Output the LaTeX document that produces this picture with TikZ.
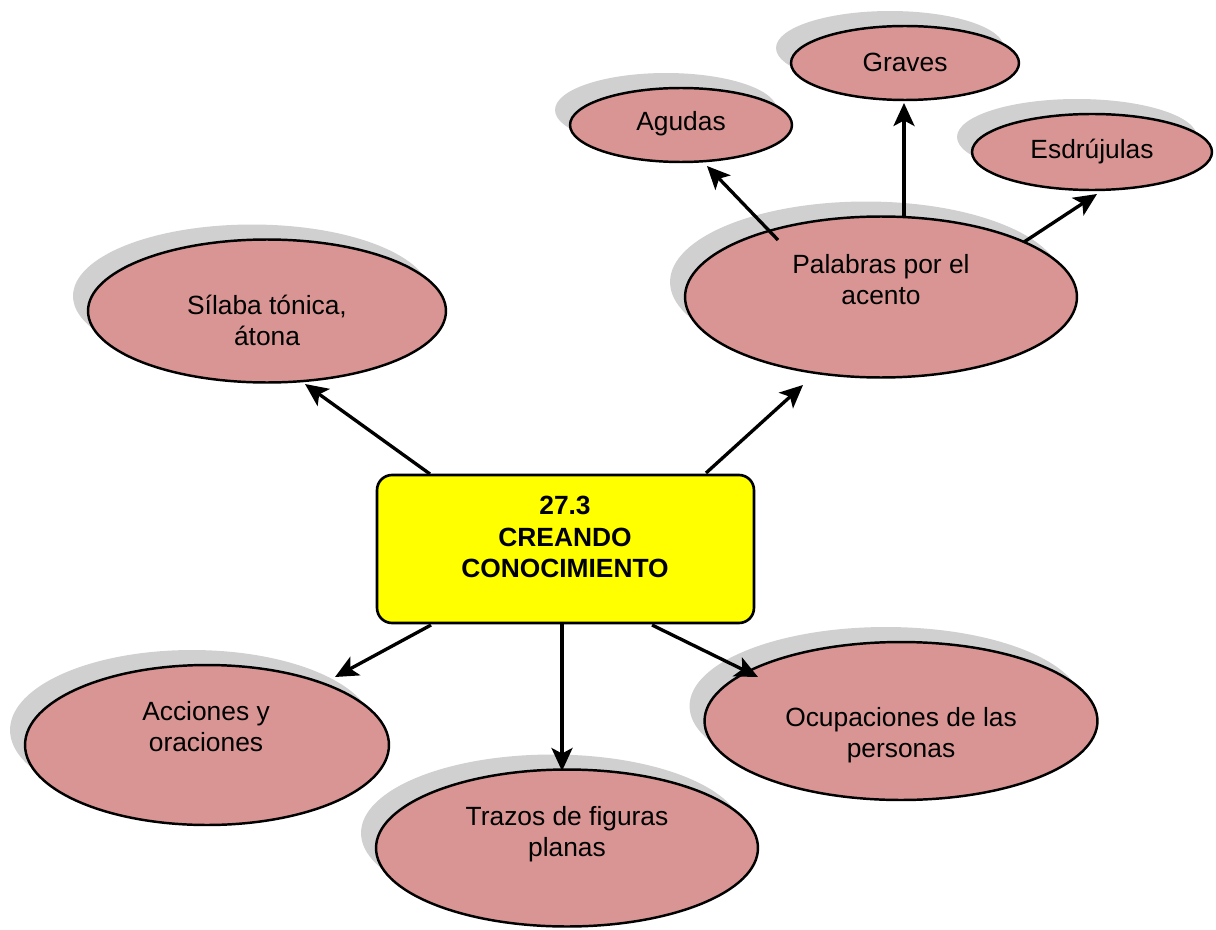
\documentclass[tikz,border=0pt]{standalone}
\usepackage{fontspec}
\setmainfont{Liberation Sans}
\usetikzlibrary{shapes.geometric,shadows,arrows.meta}
\definecolor{pinkc}{RGB}{217,149,148}
\definecolor{shadowc}{RGB}{208,208,208}
\definecolor{yelc}{RGB}{255,255,0}
\begin{document}
\begin{tikzpicture}[x=0.02cm,y=-0.02cm,
  ell/.style={ellipse, draw=black, line width=1.4pt, fill=pinkc, inner sep=0pt,
    general shadow={fill=shadowc, shadow xshift=-0.3cm, shadow yshift=0.3cm}},
  txt/.style={align=center, font=\fontsize{15}{17.6}\selectfont, inner sep=0pt},
  mainbox/.style={draw=black, line width=1.5pt, fill=yelc, rounded corners=0.3cm,
    minimum width=7.54cm, minimum height=2.96cm, inner sep=0pt},
  arr/.style={line width=1.9pt, -{Stealth[length=0.46cm, width=0.42cm, inset=0.11cm]}}
]
\useasboundingbox (0,0) rectangle (1216,929);

% ellipses
\node[ell, minimum width=7.16cm, minimum height=2.86cm] (sil) at (267,311) {};
\node[ell, minimum width=7.84cm, minimum height=3.22cm] (pal) at (881,297) {};
\node[ell, minimum width=4.44cm, minimum height=1.48cm] (agu) at (681,125) {};
\node[ell, minimum width=4.56cm, minimum height=1.48cm] (gra) at (905,63) {};
\node[ell, minimum width=4.80cm, minimum height=1.52cm] (esd) at (1092,152) {};
\node[ell, minimum width=7.28cm, minimum height=3.20cm] (acc) at (207,745) {};
\node[ell, minimum width=7.64cm, minimum height=3.14cm] (tra) at (567,848) {};
\node[ell, minimum width=7.86cm, minimum height=3.16cm] (ocu) at (901,721) {};

% texts
\node[txt] (silt) at (267,320) {Sílaba tónica,\\átona};
\node[txt] (palt) at (881,280) {Palabras por el\\acento};
\node[txt] (agut) at (681,124) {Agudas};
\node[txt] (grat) at (905,62) {Graves};
\node[txt] (esdt) at (1092,152) {Esdrújulas};
\node[txt] (acct) at (206,727) {Acciones y\\oraciones};
\node[txt] (trat) at (567,834) {Trazos de figuras\\planas};
\node[txt] (ocut) at (901,735) {Ocupaciones de las\\personas};

% central box
\node[mainbox] (box) at (565.5,549) {};
\node[txt, font=\bfseries\fontsize{15}{18.1}\selectfont] (boxt) at (565,537) {27.3\\CREANDO\\CONOCIMIENTO};

% arrow endpoints
\coordinate (s1) at (430,474);  \coordinate (e1) at (305,384);
\coordinate (s2) at (706,473);  \coordinate (e2) at (803,385);
\coordinate (s3) at (778,240);  \coordinate (e3) at (707,166);
\coordinate (s4) at (904,217);  \coordinate (e4) at (904,103);
\coordinate (s5) at (1024,242); \coordinate (e5) at (1097,194);
\coordinate (s6) at (431,625);  \coordinate (e6) at (335,677);
\coordinate (s7) at (562,624);  \coordinate (e7) at (562,771);
\coordinate (s8) at (652,625);  \coordinate (e8) at (758,677);

\draw[arr] (s1) -- (e1);
\draw[arr] (s2) -- (e2);
\draw[arr] (s3) -- (e3);
\draw[arr] (s4) -- (e4);
\draw[arr] (s5) -- (e5);
\draw[arr] (s6) -- (e6);
\draw[arr] (s7) -- (e7);
\draw[arr] (s8) -- (e8);
\end{tikzpicture}
\end{document}
